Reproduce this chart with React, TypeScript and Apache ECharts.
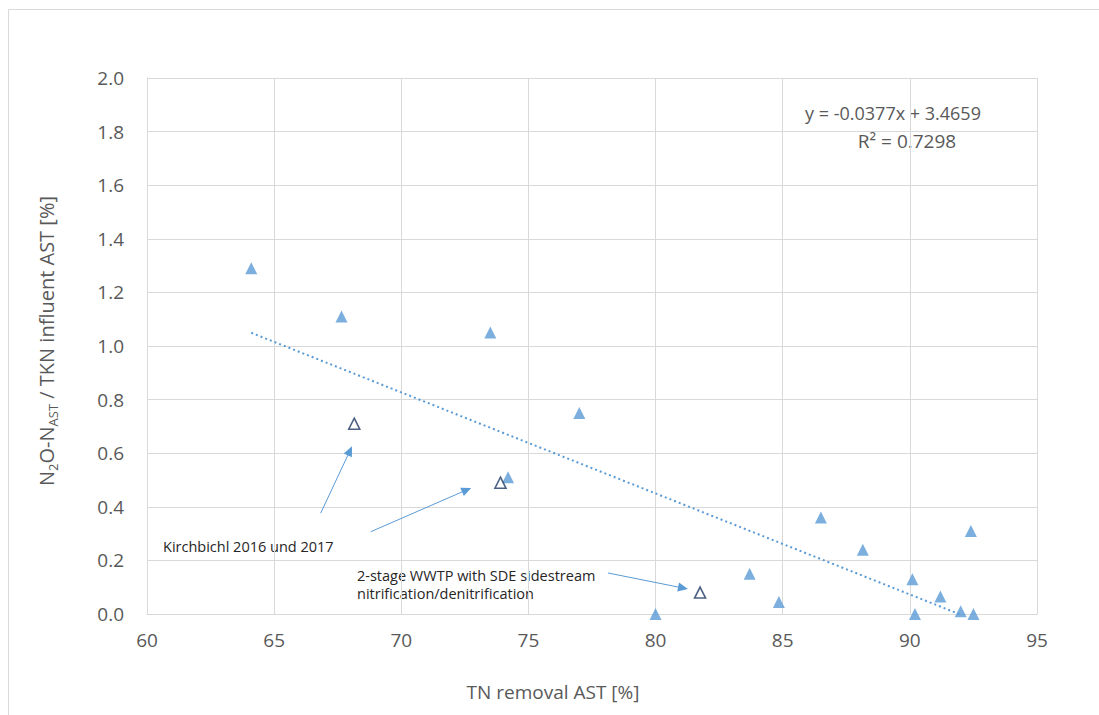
import React, { useEffect, useRef } from "react";
import * as echarts from "echarts";

// TN removal AST [%] and N2O-N / TKN influent [%] for the plants (filled triangles)
const plantTN = [64.1, 67.65, 73.5, 77.0, 74.2, 80.0, 83.7, 84.85, 86.5, 88.15, 90.1, 90.2, 91.2, 92.0, 92.5, 92.4];
const plantN2O = [1.29, 1.11, 1.05, 0.75, 0.51, 0.0, 0.15, 0.045, 0.36, 0.24, 0.13, 0.0, 0.065, 0.01, 0.0, 0.31];

// Highlighted plants (hollow triangles): Kirchbichl 2016, 2017 and 2-stage WWTP
const specialTN = [68.15, 73.9, 81.75];
const specialN2O = [0.71, 0.49, 0.08];

// Linear trendline shown in the chart
const trendSlope = -0.0377;
const trendIntercept = 3.4659;
const trendR2 = 0.7298;

// Axes
const xMin = 60, xMax = 95, xStep = 5;
const yMin = 0, yMax = 2, yStep = 0.2;

// Annotation arrows (data coordinates): [fromX, fromY, toX, toY]
const arrowKirch2016 = [66.83, 0.376, 67.98, 0.609];
const arrowKirch2017 = [68.8, 0.307, 72.57, 0.463];
const arrowTwoStage = [78.13, 0.153, 81.08, 0.097];

const BLUE = "#5B9BD5";
const TEXT = "#595959";
const GRID = "#d9d9d9";
const FONT = "'Open Sans', sans-serif";

export default function App() {
  const ref = useRef<HTMLDivElement>(null);
  useEffect(() => {
    document.body.style.margin = "0";
    const chart = echarts.init(ref.current!, null, { renderer: "svg" });
    const allX = plantTN.concat(specialTN);
    const tMin = Math.min(...allX);
    const tMax = Math.max(...allX);
    const trendData = [
      [tMin, trendSlope * tMin + trendIntercept],
      [tMax, trendSlope * tMax + trendIntercept],
    ];
    const arrow = (a: number[]) => [
      { coord: [a[0], a[1]], symbol: "none" },
      { coord: [a[2], a[3]], symbol: "triangle" },
    ];
    chart.setOption({
      animation: false,
      backgroundColor: "#ffffff",
      textStyle: { fontFamily: FONT },
      grid: { left: 147, right: 62, top: 78, bottom: 101 },
      xAxis: {
        type: "value",
        min: xMin,
        max: xMax,
        interval: xStep,
        axisLine: { show: true, lineStyle: { color: GRID, width: 1 } },
        axisTick: { show: false },
        splitLine: { show: true, lineStyle: { color: GRID, width: 1 } },
        axisLabel: { color: TEXT, fontSize: 19, margin: 16, fontFamily: FONT },
      },
      yAxis: {
        type: "value",
        min: yMin,
        max: yMax,
        interval: yStep,
        axisLine: { show: true, lineStyle: { color: GRID, width: 1 } },
        axisTick: { show: false },
        splitLine: { show: true, lineStyle: { color: GRID, width: 1 } },
        axisLabel: {
          color: TEXT,
          fontSize: 19,
          margin: 23,
          fontFamily: FONT,
          formatter: (v: number) => v.toFixed(1),
        },
      },
      series: [
        {
          name: "WWTP",
          type: "scatter",
          symbol: "triangle",
          symbolSize: 12,
          itemStyle: { color: BLUE },
          data: plantTN.map((x, i) => [x, plantN2O[i]]),
          z: 5,
        },
        {
          name: "Kirchbichl / 2-stage",
          type: "scatter",
          symbol: "triangle",
          symbolSize: 11,
          itemStyle: { color: "#ffffff", borderColor: "#1F3864", borderWidth: 1.6 },
          data: specialTN.map((x, i) => [x, specialN2O[i]]),
          z: 6,
        },
        {
          name: "Linear trend",
          type: "line",
          showSymbol: false,
          symbol: "none",
          clip: true,
          lineStyle: { color: BLUE, width: 2, type: [2, 3] },
          data: trendData,
          z: 4,
          silent: true,
        },
        {
          name: "annotations",
          type: "line",
          data: [],
          silent: true,
          markLine: {
            silent: true,
            animation: false,
            symbolSize: [9, 10],
            label: { show: false },
            lineStyle: { color: BLUE, width: 1, type: "solid" },
            emphasis: { disabled: true },
            data: [arrow(arrowKirch2016), arrow(arrowKirch2017), arrow(arrowTwoStage)],
          },
        },
      ],
      graphic: [
        {
          type: "rect",
          shape: { x: 8.5, y: 9.5, width: 1200, height: 800 },
          style: { fill: "none", stroke: GRID, lineWidth: 1 },
          silent: true,
          z: -10,
        },
        {
          type: "text",
          x: 893,
          y: 113,
          style: {
            text: `y = ${trendSlope.toFixed(4)}x + ${trendIntercept.toFixed(4)}`,
            fill: TEXT,
            font: `18px ${FONT}`,
            align: "center",
            verticalAlign: "middle",
          },
        },
        {
          type: "text",
          x: 907,
          y: 141,
          style: {
            text: `R² = ${trendR2.toFixed(4)}`,
            fill: TEXT,
            font: `19px ${FONT}`,
            align: "center",
            verticalAlign: "middle",
          },
        },
        {
          type: "text",
          x: 163,
          y: 546,
          style: {
            text: "Kirchbichl 2016 und 2017",
            fill: "#262626",
            font: `14.5px ${FONT}`,
            align: "left",
            verticalAlign: "middle",
          },
        },
        {
          type: "text",
          x: 357,
          y: 584,
          style: {
            text: "2-stage WWTP with SDE sidestream\nnitrification/denitrification",
            fill: "#262626",
            font: `14.5px ${FONT}`,
            lineHeight: 18,
            align: "left",
            verticalAlign: "middle",
          },
        },
        {
          type: "text",
          x: 553,
          y: 692,
          style: {
            text: "TN removal AST [%]",
            fill: TEXT,
            font: `19px ${FONT}`,
            align: "center",
            verticalAlign: "middle",
          },
        },
        {
          type: "text",
          x: 46,
          y: 341,
          rotation: Math.PI / 2,
          style: {
            text: "{m|N}{s|2}{m|O-N}{s|AST}{m| / TKN influent AST [%]}",
            fill: TEXT,
            align: "center",
            verticalAlign: "middle",
            rich: {
              m: { fontSize: 20, fontFamily: FONT, fill: TEXT, lineHeight: 26, verticalAlign: "middle" },
              s: { fontSize: 13, fontFamily: FONT, fill: TEXT, lineHeight: 26, verticalAlign: "bottom", padding: [9, 0, 0, 0] },
            },
          },
        },
      ],
    });
    return () => chart.dispose();
  }, []);
  return <div ref={ref} style={{ width: 1099, height: 715 }} />;
}
